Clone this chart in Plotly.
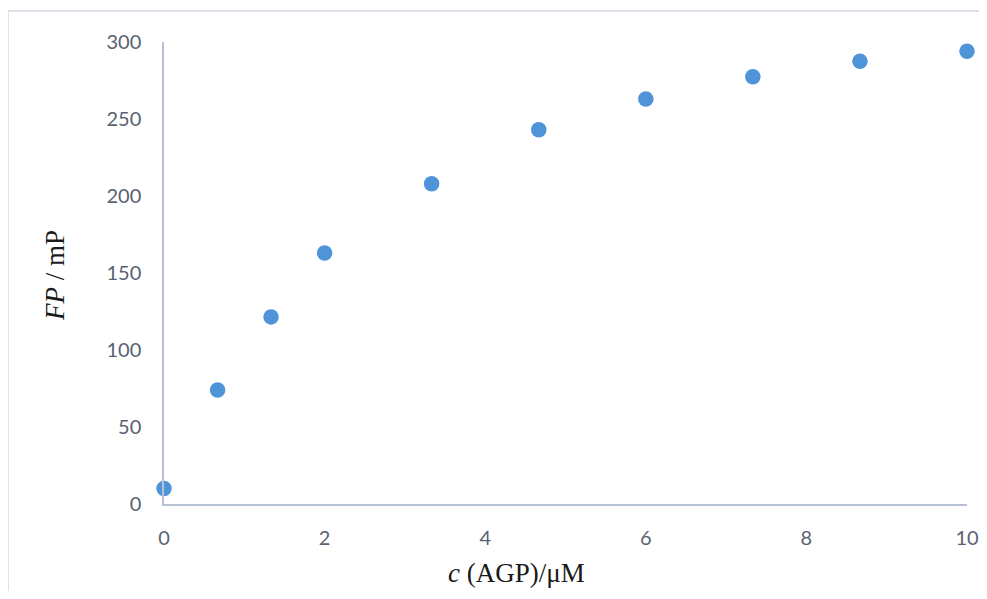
import plotly.graph_objects as go

# Data
conc_uM = [0, 0.667, 1.333, 2.0, 3.333, 4.667, 6.0, 7.333, 8.667, 10.0]
fp_mP = [10, 74, 121.5, 163, 208, 243, 263, 277.5, 287.5, 294]

x_ticks = [0, 2, 4, 6, 8, 10]
y_ticks = [0, 50, 100, 150, 200, 250, 300]

# page has an 8px body margin; figure coordinates = page coordinates - 8
OFF = 8
W, H = 987 - 2 * OFF, 599 - 2 * OFF
plot_left, plot_right, plot_top, plot_bottom = 164 - OFF, 967 - OFF, 42 - OFF, 504 - OFF
L, R, T, B = plot_left, W - plot_right, plot_top, H - plot_bottom
pw, ph = W - L - R, H - T - B

def px_x(px):
    return (px - OFF - L) / pw

def px_y(py):
    return (H - B - (py - OFF)) / ph

tick_font = dict(family="Lato, Carlito, 'Open Sans', sans-serif", size=20, color="#5a6272")
axis_color = "#b8c2d2"
title_font = dict(family="'Liberation Serif', 'Times New Roman', serif", size=27, color="#1a1a1a")
frame = dict(color="#dde1e8", width=2)

fig = go.Figure()
fig.add_trace(go.Scatter(
    x=conc_uM, y=fp_mP, mode="markers",
    marker=dict(size=15.5, color="#4f93d8", line=dict(width=0)),
    cliponaxis=False, showlegend=False,
))

fig.update_layout(
    width=W, height=H,
    margin=dict(l=L, r=R, t=T, b=B, pad=0, autoexpand=False),
    paper_bgcolor="white", plot_bgcolor="white",
    xaxis=dict(range=[0, 10], tickvals=x_ticks, showgrid=False, zeroline=False,
               showline=True, linecolor=axis_color, linewidth=1.5, automargin=False,
               ticks="", tickfont=tick_font, ticklabelstandoff=15),
    yaxis=dict(range=[0, 300], tickvals=y_ticks, showgrid=False, zeroline=False,
               showline=True, linecolor=axis_color, linewidth=1.5, automargin=False,
               ticks="", tickfont=tick_font, ticklabelstandoff=17),
    annotations=[
        dict(text="<i>c</i> (AGP)/μM", xref="paper", yref="paper",
             x=px_x(516), y=px_y(573), xanchor="center", yanchor="middle",
             showarrow=False, font=title_font),
        dict(text="<i>FP</i> / mP", xref="paper", yref="paper",
             x=px_x(55), y=px_y(276), xanchor="center", yanchor="middle",
             textangle=-90, showarrow=False, font=title_font),
    ],
    shapes=[
        dict(type="line", xref="paper", yref="paper",
             x0=px_x(8), x1=px_x(8), y0=px_y(600), y1=px_y(11),
             line=frame, layer="below"),
        dict(type="line", xref="paper", yref="paper",
             x0=px_x(8), x1=px_x(990), y0=px_y(11), y1=px_y(11),
             line=frame, layer="below"),
    ],
)

fig.write_html("out.html")
